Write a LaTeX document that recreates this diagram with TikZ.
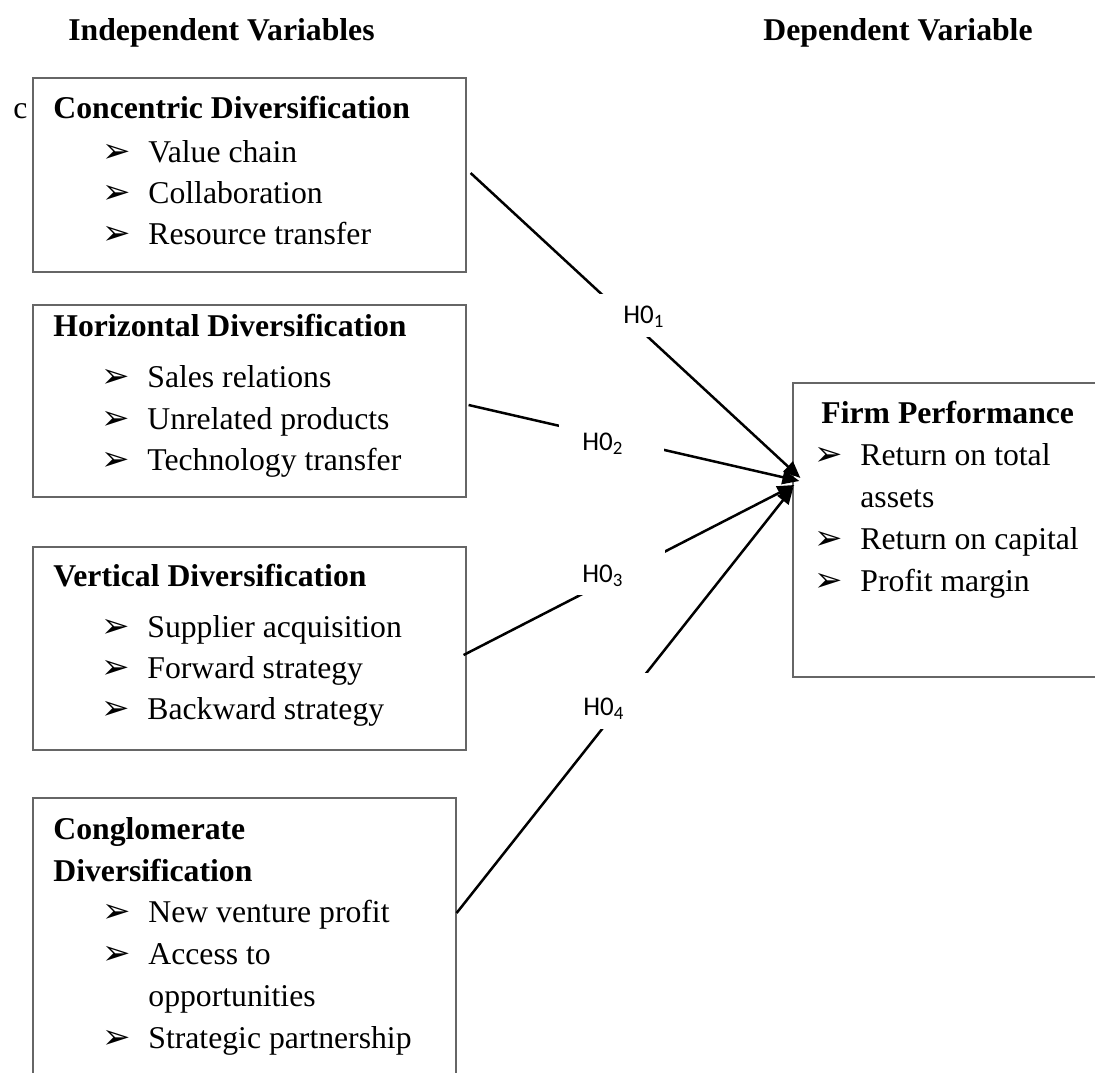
\documentclass[tikz,border=0pt]{standalone}
\usepackage{fontspec}
\setmainfont{Liberation Serif}
\newfontfamily\labfont{Carlito}
\newfontfamily\bulfont{DejaVu Sans}
\usetikzlibrary{arrows.meta}
\newcommand{\mainsize}{\fontsize{15.85pt}{19pt}\selectfont}
\newcommand{\blt}[4]{\node[bul] (#1b) at (#2,#3) {➢}; \node[txt] (#1) at (#2+46,#3) {#4};}
\begin{document}
\begin{tikzpicture}[x=0.5pt,y=-0.5pt,
  box/.style={draw=black!60, line width=0.6pt, inner sep=0},
  txt/.style={anchor=base west, inner sep=0, font=\mainsize},
  ttl/.style={anchor=base west, inner sep=0, font=\mainsize\bfseries},
  bul/.style={anchor=base west, inner sep=0, font=\bulfont\fontsize{17pt}{19pt}\selectfont},
  hyp/.style={anchor=base west, inner sep=0, font=\labfont\fontsize{13.5pt}{16pt}\selectfont},
  conn/.style={line width=1.25pt, -{Triangle[length=8.5pt,width=7pt]}},
]
\useasboundingbox (0,0) rectangle (1095,1072);
\clip (0,0) rectangle (1095,1072);

% headings
\node[ttl] (hind) at (68,40) {Independent Variables};
\node[ttl] (hdep) at (763,40) {Dependent Variable};

% boxes
\node[box, minimum width=216.5pt, minimum height=97pt] (b1) at (249.5,175) {};
\node[box, minimum width=216.5pt, minimum height=96pt] (b2) at (249.5,401) {};
\node[box, minimum width=216.5pt, minimum height=101.5pt] (b3) at (249.5,648.5) {};
\node[box, minimum width=211.5pt, minimum height=143.5pt] (b4) at (244.5,941.5) {};
\node[box, minimum width=158.5pt, minimum height=147pt] (fp) at (951.5,530) {};

% box 1
\node[txt] (c) at (13,118) {c};
\node[ttl] (t1) at (53,118) {Concentric Diversification};
\blt{i11}{102}{162}{Value chain}
\blt{i12}{102}{203}{Collaboration}
\blt{i13}{102}{244}{Resource transfer}

% box 2
\node[ttl] (t2) at (53,336) {Horizontal Diversification};
\blt{i21}{101}{387}{Sales relations}
\blt{i22}{101}{429}{Unrelated products}
\blt{i23}{101}{470}{Technology transfer}

% box 3
\node[ttl] (t3) at (53,586) {Vertical Diversification};
\blt{i31}{101}{637}{Supplier acquisition}
\blt{i32}{101}{678}{Forward strategy}
\blt{i33}{101}{719}{Backward strategy}

% box 4
\node[ttl] (t4a) at (53,839) {Conglomerate};
\node[ttl] (t4b) at (53,881) {Diversification};
\blt{i41}{102}{922}{New venture profit}
\blt{i42}{102}{964}{Access to}
\node[txt] (i42c) at (148,1006) {opportunities};
\blt{i43}{102}{1048}{Strategic partnership}

% firm performance
\node[ttl] (tf) at (821,423) {Firm Performance};
\blt{f1}{814}{465}{Return on total}
\node[txt] (f1c) at (860,507) {assets};
\blt{f2}{814}{549}{Return on capital}
\blt{f3}{814}{591}{Profit margin}

% connector ends
\coordinate (s1) at ([xshift=2pt,yshift=1pt]b1.east);
\coordinate (s2) at ([xshift=1pt,yshift=-2pt]b2.east);
\coordinate (s3) at ([xshift=-1.5pt,yshift=-3.25pt]b3.east);
\coordinate (s4) at ([yshift=14.25pt]b4.east);
\coordinate (tip1) at ([xshift=4pt,yshift=26pt]fp.west);
\coordinate (tip2) at ([xshift=3.5pt,yshift=24.5pt]fp.west);
\coordinate (tip3) at ([xshift=1pt,yshift=22.5pt]fp.west);
\coordinate (tip4) at ([xshift=0.5pt,yshift=21.5pt]fp.west);

\draw[conn] (s1) -- (tip1);
\draw[conn] (s2) -- (tip2);
\draw[conn] (s3) -- (tip3);
\draw[conn] (s4) -- (tip4);

% hypothesis labels (white text boxes)
\fill[white] (599,294) rectangle (690,337);
\node[hyp] (h1) at (623,323) {H0\textsubscript{1}};
\fill[white] (559,420) rectangle (664,466);
\node[hyp] (h2) at (582,450) {H0\textsubscript{2}};
\fill[white] (559,540) rectangle (665,595);
\node[hyp] (h3) at (582,582) {H0\textsubscript{3}};
\fill[white] (575,673) rectangle (680,729);
\node[hyp] (h4) at (583,715) {H0\textsubscript{4}};
\end{tikzpicture}
\end{document}
